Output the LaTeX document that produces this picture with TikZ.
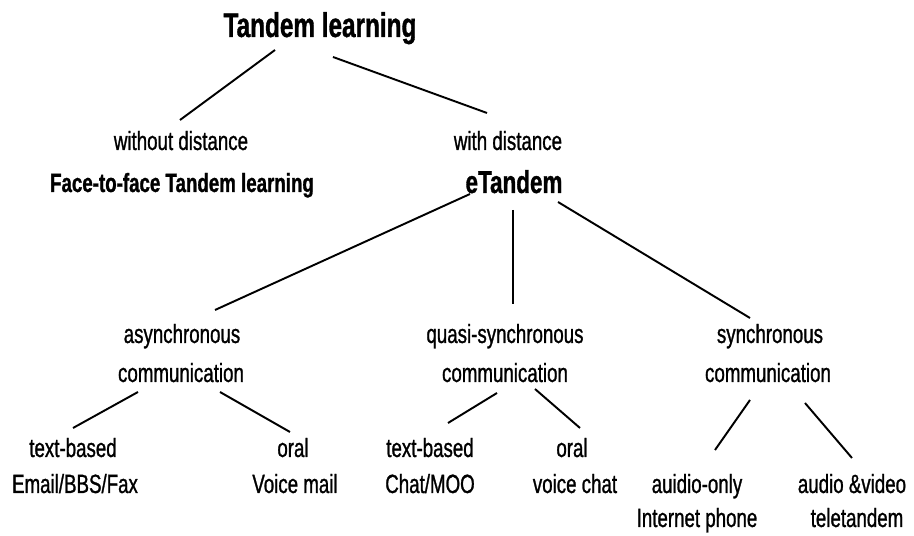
\documentclass[tikz,border=0pt]{standalone}
\usepackage{fontspec}
\setmainfont{Liberation Sans}[FakeStretch=0.71, FakeBold=1]
\usetikzlibrary{calc}

\begin{document}
\begin{tikzpicture}[x=0.02cm, y=-0.02cm, line width=1.1pt,
  every node/.style={inner sep=0pt, anchor=base},
  txt/.style={font=\fontsize{15}{18}\selectfont},
  bld/.style={font=\fontsize{15}{18}\selectfont\bfseries},
  ttl/.style={font=\fontsize{19.5}{23}\selectfont\bfseries},
  etd/.style={font=\fontsize{18}{21}\selectfont\bfseries}]

\useasboundingbox[fill=white] (0,0) rectangle (914,536);

\node[ttl] (tl) at (320,37) {Tandem learning};
\node[txt] (wod) at (181,150) {without distance};
\node[bld] (ftf) at (182,192) {Face-to-face Tandem learning};
\node[txt] (wd) at (508,150) {with distance};
\node[etd] (et) at (514,193) {eTandem};

\node[txt] (asy1) at (182,343) {asynchronous};
\node[txt] (asy2) at (181,382) {communication};
\node[txt] (qua1) at (505,343) {quasi-synchronous};
\node[txt] (qua2) at (505,382) {communication};
\node[txt] (syn1) at (770,343) {synchronous};
\node[txt] (syn2) at (768,382) {communication};

\node[txt] (ltb) at (73,457) {text-based};
\node[txt] (lem) at (75,493) {Email/BBS/Fax};
\node[txt] (lor) at (293,457) {oral};
\node[txt] (lvm) at (295,493) {Voice mail};
\node[txt] (mtb) at (430,457) {text-based};
\node[txt] (mch) at (430,493) {Chat/MOO};
\node[txt] (mor) at (572,457) {oral};
\node[txt] (mvc) at (575,493) {voice chat};
\node[txt] (rao) at (697,493) {auidio-only};
\node[txt] (rip) at (697,527) {Internet phone};
\node[txt] (rav) at (852,493) {audio \&video};
\node[txt] (rtt) at (857,527) {teletandem};

\draw ($(tl.base)+(-45,13)$) -- ($(wod.base)+(-1,-30)$);
\draw ($(tl.base)+(13,20)$) -- ($(wd.base)+(-21,-37)$);

\draw ($(et.base)+(-44,1)$) -- ($(asy1.base)+(33,-33)$);
\draw ($(et.base)+(-1,17)$) -- ($(qua1.base)+(8,-39)$);
\draw ($(et.base)+(44,9)$) -- ($(syn1.base)+(-20,-25)$);

\draw ($(asy2.base)+(-43,10)$) -- ($(ltb.base)+(0,-29)$);
\draw ($(asy2.base)+(39,10)$) -- ($(lor.base)+(-3,-25)$);
\draw ($(qua2.base)+(-8,11)$) -- ($(mtb.base)+(18,-34)$);
\draw ($(qua2.base)+(30,7)$) -- ($(mor.base)+(8,-29)$);
\draw ($(syn2.base)+(-18,18)$) -- ($(rao.base)+(18,-43)$);
\draw ($(syn2.base)+(37,21)$) -- ($(rav.base)+(0,-35)$);

\end{tikzpicture}
\end{document}
